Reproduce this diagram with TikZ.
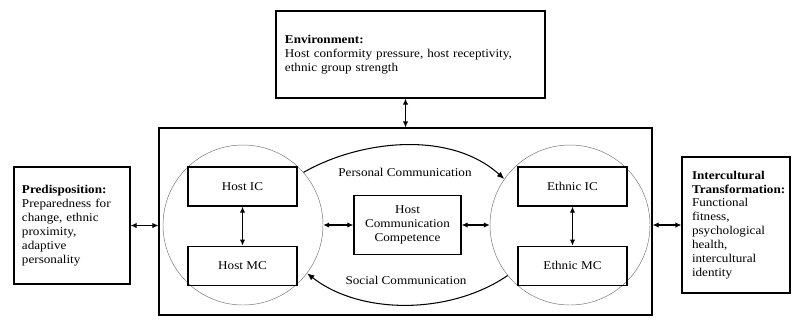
\documentclass[tikz,border=0pt]{standalone}
\usepackage{fontspec}
\setmainfont{Liberation Serif}[FakeStretch=1.1]
\usepackage{tikz}
\usetikzlibrary{arrows.meta,positioning}

\begin{document}
\begin{tikzpicture}[
    x=0.03cm, y=-0.03cm,
    font=\fontsize{10.2}{11.9}\selectfont,
    node distance=1.17cm and 1.5cm,
    frame/.style={draw, line width=0.9pt, align=left, inner ysep=0pt},
    unit/.style={draw, line width=1pt, minimum width=3.27cm, minimum height=1.17cm, align=center},
    ring/.style={draw=black!55, circle, minimum size=4.8cm, inner sep=0pt},
    line/.style={{Latex[length=1.8mm,width=1.6mm]}-{Latex[length=1.8mm,width=1.6mm]}, line width=0.9pt},
    flow/.style={-{Latex[length=2.2mm,width=1.8mm]}, line width=0.9pt}
  ]
    \useasboundingbox (0,0) rectangle (795,324);

    % outer frame and the two circles
    \node[draw, line width=0.9pt, minimum width=14.79cm, minimum height=5.61cm] (main) at (405.5,221.5) {};
    \node[ring] (lcirc) at (243,225) {};
    \node[ring] (rcirc) at (570,225) {};

    \node[unit] (hic) at (242.5,186.5) {Host IC};
    \node[unit, below=of hic] (hmc) {Host MC};
    \node[unit] (eic) at (572.5,186.5) {Ethnic IC};
    \node[unit, below=of eic] (emc) {Ethnic MC};
    \node[unit, minimum width=3.21cm, minimum height=1.77cm] (hcc) at (407.5,225) {Host\\Communication\\Competence};

    % outside boxes
    \node[frame, text width=7.53cm, inner xsep=0.27cm, minimum height=2.61cm] (env) at (410.5,54.5)
      {\textbf{Environment:}\\Host conformity pressure, host receptivity,\\ethnic group strength};
    \node[frame, text width=3.0cm, inner xsep=0.24cm, minimum height=3.51cm] (pre) at (72,225.5)
      {\textbf{Predisposition:}\\Preparedness for\\change, ethnic\\proximity,\\adaptive\\personality};
    \node[frame, text width=2.64cm, inner xsep=0.3cm, minimum height=4.08cm] (trans) at (736,225)
      {\textbf{Intercultural}\\\textbf{Transformation:}\\Functional\\fitness,\\psychological\\health,\\intercultural\\identity};

    \node (pc) at (405,172) {Personal Communication};
    \node (sc) at (406,280) {Social Communication};

    \draw[line] (hic) -- (hmc);
    \draw[line] (eic) -- (emc);
    \draw[line] (lcirc.east) -- (hcc.west);
    \draw[line] (hcc.east) -- (rcirc.west);
    \draw[line] (env.south -| main.north) -- (main.north);
    \draw[line] (pre.east) -- (pre.east -| main.west);
    \draw[line] (main.east |- trans.west) -- (trans.west);

    \draw[flow] (lcirc.41) .. controls (360,140) and (450,130) .. (rcirc.145);
    \draw[flow] (rcirc.219) .. controls (450,315) and (360,315) .. (lcirc.-37);
  \end{tikzpicture}
\end{document}
